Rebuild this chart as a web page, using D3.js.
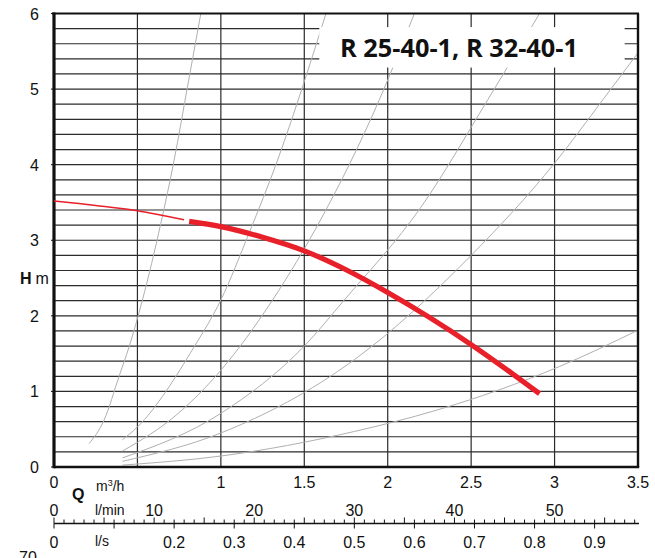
<!DOCTYPE html>
<html>
<head>
<meta charset="utf-8">
<script src="https://cdn.jsdelivr.net/npm/d3@7/dist/d3.min.js"></script>
<style>
  html, body { margin: 0; padding: 0; background: #fff; }
  svg { display: block; }
  text { font-family: "Liberation Sans", Arial, sans-serif; fill: #111; }
</style>
</head>
<body>
<svg id="chart" width="655" height="558"></svg>
<script>
// Pump performance curve, Q in m³/h, H in m
const title = "R 25-40-1, R 32-40-1";

// pump curve: thin low-flow part and thick working range
const pumpLowQ = [0, 0.25, 0.5, 0.78];
const pumpLowH = [3.52, 3.46, 3.39, 3.27];
const pumpQ = [0.81, 1.0, 1.25, 1.5, 1.75, 2.0, 2.25, 2.5, 2.75, 2.91];
const pumpH = [3.25, 3.18, 3.04, 2.86, 2.61, 2.31, 1.98, 1.62, 1.23, 0.97];

// system resistance curves (light gray)
const sysA_Q = [0.21, 0.30, 0.39, 0.45, 0.53, 0.64, 0.72, 0.80, 0.88];
const sysA_H = [0.31, 0.62, 1.20, 1.59, 2.21, 3.22, 4.06, 5.03, 6.0];
const sysB_Q = [0.41, 0.5, 0.84, 1.0, 1.17, 1.34, 1.5, 1.63];
const sysB_H = [0.36, 0.53, 1.59, 2.21, 3.10, 4.06, 5.10, 6.0];
const sysC_Q = [0.41, 0.75, 1.0, 1.31, 1.6, 1.95, 2.16];
const sysC_H = [0.21, 0.72, 1.28, 2.21, 3.28, 4.86, 6.0];
const sysD_Q = [0.41, 1.0, 1.5, 1.74, 2.2, 2.6, 2.91];
const sysD_H = [0.12, 0.71, 1.60, 2.21, 3.44, 4.86, 6.0];
const sysE_Q = [0.41, 1.0, 1.8, 2.5, 3.0, 3.29, 3.5];
const sysE_H = [0.075, 0.45, 1.42, 2.80, 4.02, 4.86, 5.48];
const sysF_Q = [0.41, 1.0, 1.8, 2.29, 3.03, 3.5];
const sysF_H = [0.025, 0.145, 0.47, 0.75, 1.33, 1.81];

// axis ticks
const hTicks = [0, 1, 2, 3, 4, 5, 6];
const qLabels = [0, 1, 1.5, 2, 2.5, 3, 3.5];
const lminLabels = [0, 10, 20, 30, 40, 50];
const lsLabels = [0, 0.2, 0.3, 0.4, 0.5, 0.6, 0.7, 0.8, 0.9];

const svg = d3.select("#chart");
const plotL = 54, plotR = 638, plotT = 13.5, plotB = 467;

const x = d3.scaleLinear().domain([0, 3.5]).range([plotL, plotR]);
const y = d3.scaleLinear().domain([0, 6]).range([plotB, plotT]);
// l/min and l/s share the flow axis
const xMin = d3.scaleLinear().domain([0, 3.5 / 0.06]).range([plotL, plotR]);
const xLs = d3.scaleLinear().domain([0, 3.5 / 3.6]).range([plotL, plotR]);

const grid = svg.append("g");
// horizontal grid every 0.2 m
grid.selectAll("line.h").data(d3.range(1, 30).map(i => i * 0.2)).join("line")
  .attr("class", "h")
  .attr("x1", plotL).attr("x2", plotR)
  .attr("y1", d => y(d)).attr("y2", d => y(d))
  .attr("stroke", "#2b2b2b").attr("stroke-width", 1.2);
// vertical grid every 0.5 m³/h
grid.selectAll("line.v").data(d3.range(1, 7).map(i => i * 0.5)).join("line")
  .attr("class", "v")
  .attr("x1", d => x(d)).attr("x2", d => x(d))
  .attr("y1", plotT).attr("y2", plotB)
  .attr("stroke", "#2b2b2b").attr("stroke-width", 1.2);

// system curves
const line = d3.line().x(d => x(d[0])).y(d => y(d[1])).curve(d3.curveMonotoneX);
const smooth = d3.line().x(d => x(d[0])).y(d => y(d[1])).curve(d3.curveCatmullRom.alpha(0.5));
const sysCurves = [
  [sysA_Q, sysA_H], [sysB_Q, sysB_H], [sysC_Q, sysC_H],
  [sysD_Q, sysD_H], [sysE_Q, sysE_H], [sysF_Q, sysF_H]
];
svg.append("g").selectAll("path").data(sysCurves).join("path")
  .attr("d", ([qs, hs]) => line(d3.zip(qs, hs)))
  .attr("fill", "none").attr("stroke", "#b0b0b0").attr("stroke-width", 1);

// white panel behind the title
const box = { q0: 1.59, q1: 3.42, h0: 5.285, h1: 5.82 };
svg.append("rect")
  .attr("x", x(box.q0)).attr("y", y(box.h1))
  .attr("width", x(box.q1) - x(box.q0)).attr("height", y(box.h0) - y(box.h1))
  .attr("fill", "#fff");
const t = svg.append("text").text(title)
  .attr("x", 340).attr("y", 57)
  .style("font-family", "'Open Sans', 'Noto Sans', sans-serif")
  .style("font-weight", 700).style("font-size", "24px");
const tw = t.node().getComputedTextLength();
t.style("font-size", (24 * 238 / tw).toFixed(2) + "px");

// frame
svg.append("line").attr("x1", plotL - 2).attr("x2", plotR + 1).attr("y1", plotT).attr("y2", plotT)
  .attr("stroke", "#111").attr("stroke-width", 2);
svg.append("line").attr("x1", plotR).attr("x2", plotR).attr("y1", plotT).attr("y2", plotB)
  .attr("stroke", "#111").attr("stroke-width", 2.4);
svg.append("line").attr("x1", plotL).attr("x2", plotR + 1.2).attr("y1", plotB).attr("y2", plotB)
  .attr("stroke", "#111").attr("stroke-width", 2.6);
svg.append("line").attr("x1", plotL).attr("x2", plotL).attr("y1", plotT - 1).attr("y2", plotB + 1.3)
  .attr("stroke", "#111").attr("stroke-width", 3.2);

// pump curve
svg.append("path").attr("d", smooth(d3.zip(pumpLowQ, pumpLowH)))
  .attr("fill", "none").attr("stroke", "#e8202a").attr("stroke-width", 1.5);
svg.append("path").attr("d", smooth(d3.zip(pumpQ, pumpH)))
  .attr("fill", "none").attr("stroke", "#e8202a").attr("stroke-width", 5.2);

// H axis
const yAx = svg.append("g");
yAx.selectAll("line").data(hTicks).join("line")
  .attr("x1", plotL - 3).attr("x2", plotL).attr("y1", d => y(d)).attr("y2", d => y(d))
  .attr("stroke", "#111").attr("stroke-width", 1);
yAx.selectAll("text").data(hTicks).join("text")
  .attr("x", 39).attr("y", d => y(d) + 6).attr("text-anchor", "end")
  .style("font-size", "16px").text(d => d);
const hl = svg.append("text").attr("x", 20).attr("y", 284).style("font-size", "16px");
hl.append("tspan").style("font-weight", 700).text("H");
hl.append("tspan").attr("dx", 4).text("m");

// Q axis, m³/h
svg.append("g").selectAll("text").data(qLabels).join("text")
  .attr("x", d => x(d)).attr("y", 488).attr("text-anchor", "middle")
  .style("font-size", "16px").text(d => d);
svg.append("text").attr("x", 72).attr("y", 500).style("font-size", "16px")
  .style("font-weight", 700).text("Q");
const mu = svg.append("text").attr("x", 96).attr("y", 491).style("font-size", "14px");
mu.append("tspan").text("m");
mu.append("tspan").attr("dy", -5).style("font-size", "9px").text("3");
mu.append("tspan").attr("dy", 5).text("/h");

// l/min labels
svg.append("g").selectAll("text").data(lminLabels).join("text")
  .attr("x", d => xMin(d)).attr("y", 516).attr("text-anchor", "middle")
  .style("font-size", "16px").text(d => d);
svg.append("text").attr("x", 95).attr("y", 515).style("font-size", "14px").text("l/min");

// combined l/min + l/s scale line
const sy = 523.5;
svg.append("line").attr("x1", plotL).attr("x2", plotR + 1).attr("y1", sy).attr("y2", sy)
  .attr("stroke", "#111").attr("stroke-width", 1.6);
const sc = svg.append("g");
sc.selectAll("line.m").data(d3.range(0, 59)).join("line")
  .attr("class", "m")
  .attr("x1", d => xMin(d)).attr("x2", d => xMin(d))
  .attr("y1", sy).attr("y2", d => d % 5 === 0 ? sy - 6 : sy - 4)
  .attr("stroke", "#111").attr("stroke-width", 1);
sc.selectAll("line.s").data(d3.range(0, 10).map(i => i / 10)).join("line")
  .attr("class", "s")
  .attr("x1", d => xLs(d)).attr("x2", d => xLs(d))
  .attr("y1", sy).attr("y2", sy + 5)
  .attr("stroke", "#111").attr("stroke-width", 1);

// l/s labels
svg.append("g").selectAll("text").data(lsLabels).join("text")
  .attr("x", d => xLs(d)).attr("y", 548).attr("text-anchor", "middle")
  .style("font-size", "16px").text(d => d);
svg.append("text").attr("x", 95).attr("y", 546).style("font-size", "14px").text("l/s");

// partly visible label at the lower edge
svg.append("text").attr("x", 28).attr("y", 563).attr("text-anchor", "middle")
  .style("font-size", "16px").text("70");
</script>
</body>
</html>
